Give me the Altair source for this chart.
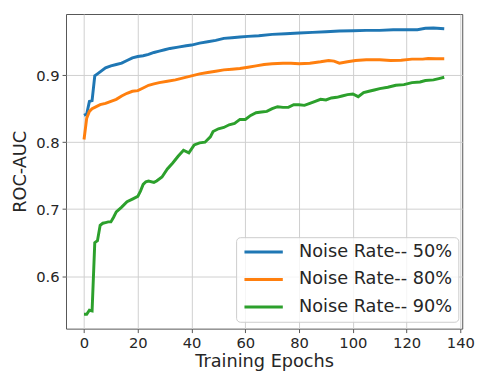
import altair as alt
import pandas as pd

series_names = ["Noise Rate-- 50%", "Noise Rate-- 80%", "Noise Rate-- 90%"]
colors = ["#1f77b4", "#ff7f0e", "#2ca02c"]

blue_epochs = [0, 1, 2, 3, 4, 5, 6, 8, 10, 12, 14, 16, 18, 20, 22, 24, 26, 28, 30, 32, 35, 38, 40, 43, 46, 49,
               52, 55, 58, 61, 65, 70, 75, 80, 85, 90, 95, 100, 105, 110, 115, 120, 124, 127, 130, 134]
blue_values = [0.840, 0.842, 0.861, 0.862, 0.899, 0.902, 0.905, 0.911, 0.914, 0.916, 0.918, 0.922, 0.926, 0.928,
               0.929, 0.931, 0.934, 0.936, 0.938, 0.940, 0.942, 0.944, 0.945, 0.948, 0.950, 0.952, 0.955, 0.956,
               0.957, 0.958, 0.959, 0.961, 0.962, 0.963, 0.964, 0.965, 0.966, 0.9665, 0.967, 0.967, 0.968, 0.968,
               0.968, 0.970, 0.9705, 0.9695]

orange_epochs = [0, 1, 2, 3, 4, 6, 8, 10, 12, 14, 16, 18, 20, 22, 24, 26, 28, 31, 34, 37, 40, 43, 46, 49, 52, 55,
                 58, 61, 64, 67, 70, 74, 77, 80, 84, 88, 91, 93, 95, 98, 101, 105, 110, 114, 118, 122, 126, 128,
                 131, 134]
orange_values = [0.804, 0.836, 0.846, 0.850, 0.852, 0.856, 0.858, 0.861, 0.864, 0.869, 0.873, 0.876, 0.877, 0.881,
                 0.885, 0.887, 0.889, 0.891, 0.893, 0.896, 0.899, 0.902, 0.904, 0.906, 0.908, 0.909, 0.910, 0.912,
                 0.914, 0.916, 0.917, 0.918, 0.918, 0.917, 0.918, 0.920, 0.922, 0.921, 0.918, 0.920, 0.922, 0.923,
                 0.923, 0.922, 0.9225, 0.924, 0.924, 0.925, 0.9245, 0.9245]

green_epochs = [0, 1, 2, 3, 4, 5, 6, 7, 8, 9, 10, 11, 12, 14, 16, 18, 20, 21, 22, 23, 24, 26, 27, 29, 31, 33, 35,
                37, 39, 41, 43, 45, 47, 48, 50, 52, 54, 56, 58, 60, 62, 64, 66, 68, 70, 72, 74, 76, 78, 80, 82,
                84, 86, 88, 90, 92, 94, 96, 98, 100, 102, 104, 106, 108, 110, 113, 116, 119, 122, 125, 127, 130,
                132, 134]
green_values = [0.543, 0.543, 0.549, 0.548, 0.650, 0.653, 0.676, 0.679, 0.680, 0.681, 0.681, 0.688, 0.696, 0.703,
                0.711, 0.715, 0.719, 0.727, 0.737, 0.741, 0.742, 0.740, 0.742, 0.748, 0.760, 0.769, 0.779, 0.788,
                0.784, 0.796, 0.799, 0.800, 0.808, 0.816, 0.820, 0.822, 0.826, 0.828, 0.834, 0.834, 0.840, 0.844,
                0.845, 0.846, 0.850, 0.853, 0.852, 0.852, 0.856, 0.856, 0.855, 0.858, 0.861, 0.864, 0.863, 0.866,
                0.867, 0.869, 0.871, 0.872, 0.868, 0.874, 0.876, 0.878, 0.880, 0.882, 0.885, 0.886, 0.889, 0.890,
                0.892, 0.893, 0.895, 0.897]

x_ticks = [0, 20, 40, 60, 80, 100, 120, 140]
y_ticks = [0.6, 0.7, 0.8, 0.9]

rows = []
for name, ep, vals in zip(series_names, [blue_epochs, orange_epochs, green_epochs],
                          [blue_values, orange_values, green_values]):
    for e, v in zip(ep, vals):
        rows.append({"series": name, "epoch": e, "auc": v})
df = pd.DataFrame(rows)

FONT = "DejaVu Sans"
TXT = "#262626"

chart = alt.Chart(df).mark_line(strokeWidth=3, clip=True).encode(
    x=alt.X("epoch:Q",
            scale=alt.Scale(domain=[-6.7, 140.7], nice=False, zero=False),
            axis=alt.Axis(values=x_ticks, title="Training Epochs", format="d")),
    y=alt.Y("auc:Q",
            scale=alt.Scale(domain=[0.5216, 0.9914], nice=False, zero=False),
            axis=alt.Axis(values=y_ticks, title="ROC-AUC", format=".1f")),
    color=alt.Color("series:N",
                    scale=alt.Scale(domain=series_names, range=colors),
                    legend=alt.Legend(orient="none", legendX=173, legendY=227, title=None,
                                      symbolType="M-1,0H5", symbolSize=169, symbolStrokeWidth=3,
                                      labelFontSize=18, labelOffset=40, padding=6, rowPadding=10,
                                      fillColor="rgba(255,255,255,0.8)", strokeColor="#cccccc",
                                      cornerRadius=4, labelFont=FONT, labelColor=TXT)),
    order="epoch:Q",
).properties(
    width=403, height=320,
    autosize=alt.AutoSizeParams(type="none"),
    padding={"left": 59, "top": 3, "right": 15, "bottom": 42},
).configure_view(
    stroke="#555555", strokeWidth=1
).configure_axis(
    grid=True, gridColor="#cfcfcf", gridWidth=1, domain=False,
    tickColor="#555555", tickSize=4, tickWidth=1,
    labelFont=FONT, labelFontSize=15, labelColor=TXT, labelPadding=3,
    titleFont=FONT, titleFontSize=18, titleFontWeight="normal", titleColor=TXT,
).configure_axisX(
    titlePadding=3
).configure_axisY(
    titlePadding=6
)

chart.save("out.html", embed_options={"renderer": "svg", "actions": False})
